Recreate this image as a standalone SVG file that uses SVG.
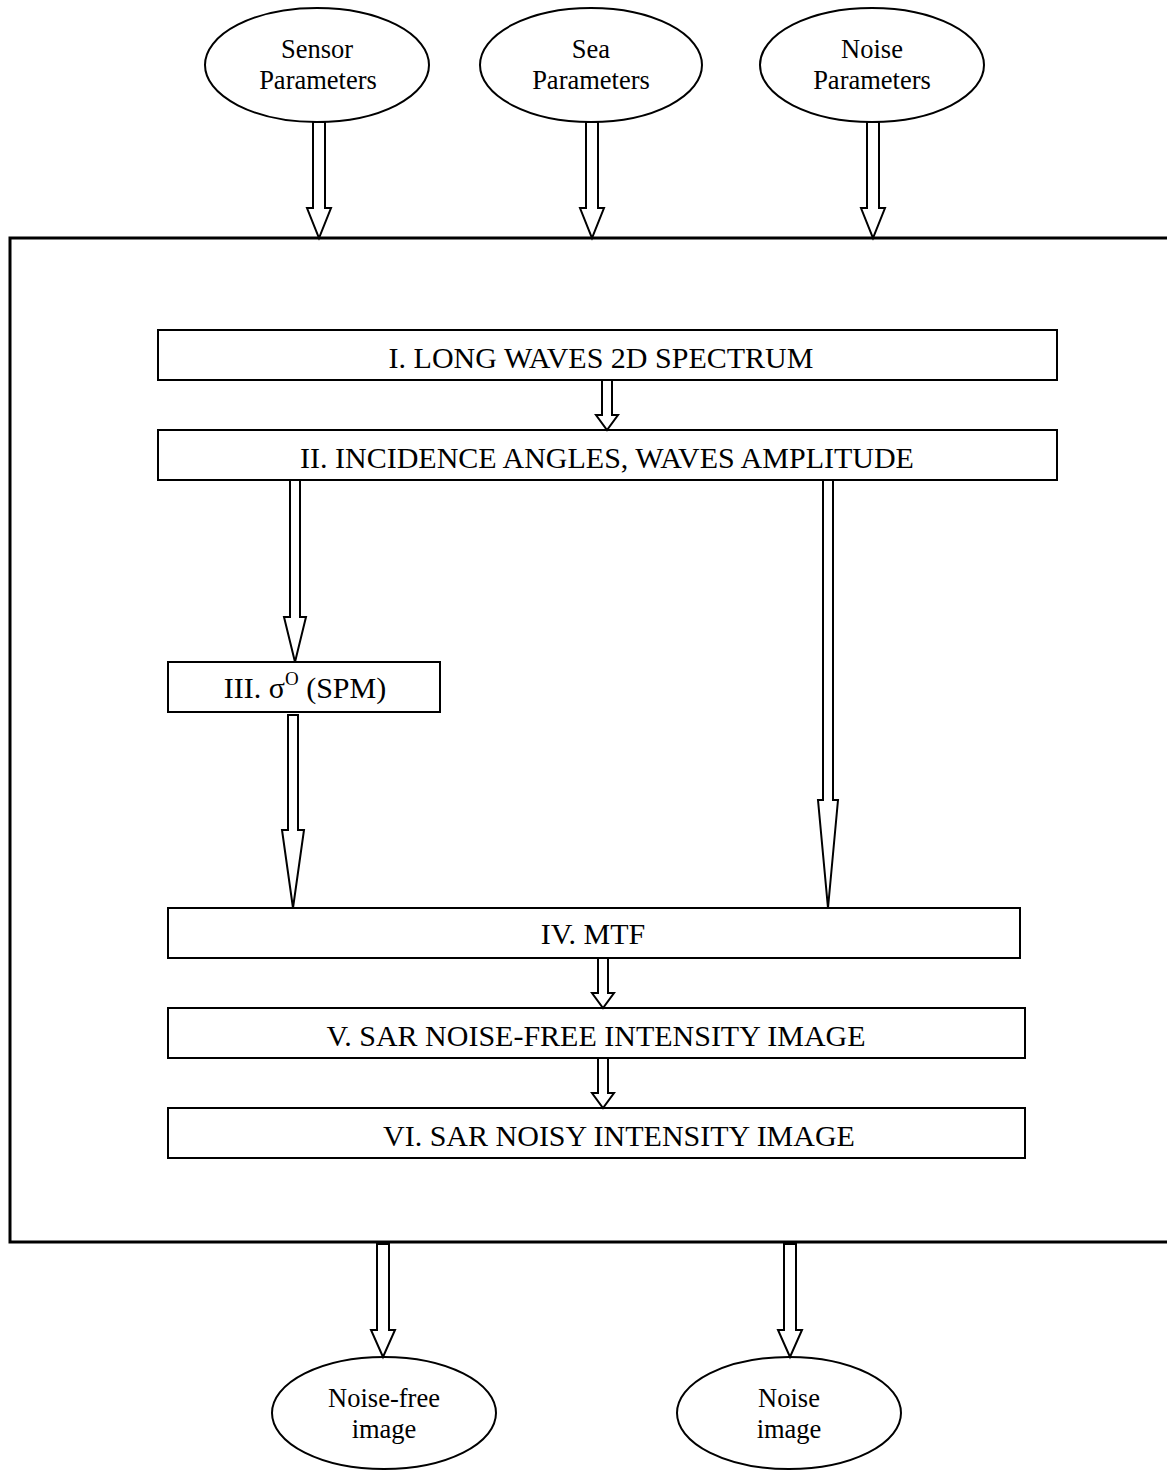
<svg xmlns="http://www.w3.org/2000/svg" width="1167" height="1470" viewBox="0 0 1167 1470">
<style>
.sh{fill:#fff;stroke:#000;stroke-width:2}
.ar{fill:#fff;stroke:#000;stroke-width:2;stroke-linejoin:miter}
text{font-family:"Liberation Serif","Times New Roman",serif;fill:#000;text-anchor:middle}
.t{font-size:30px}
.e{font-size:26.5px}
</style>
<rect width="1167" height="1470" fill="#fff"/>
<g id="frame"><path d="M1170,238 H10 V1242 H1170" fill="none" stroke="#000" stroke-width="3"/></g>
<g id="sensor"><ellipse class="sh" cx="317" cy="65" rx="112" ry="57"/><text class="e" x="317" y="58">Sensor</text><text class="e" x="318" y="89">Parameters</text></g>
<g id="sea"><ellipse class="sh" cx="591" cy="65" rx="111" ry="57"/><text class="e" x="591" y="58">Sea</text><text class="e" x="591" y="89">Parameters</text></g>
<g id="noise"><ellipse class="sh" cx="872" cy="65" rx="112" ry="57"/><text class="e" x="872" y="58">Noise</text><text class="e" x="872" y="89">Parameters</text></g>
<g id="b1"><rect class="sh" x="158" y="330" width="899" height="50"/><text class="t" x="601" y="368">I. LONG WAVES 2D SPECTRUM</text></g>
<g id="b2"><rect class="sh" x="158" y="430" width="899" height="50"/><text class="t" x="607" y="468">II. INCIDENCE ANGLES, WAVES AMPLITUDE</text></g>
<g id="b3"><rect class="sh" x="168" y="662" width="272" height="50"/><text class="t" x="305" y="698">III. σ<tspan font-size="19" dy="-13">O</tspan><tspan dy="13"> (SPM)</tspan></text></g>
<g id="b4"><rect class="sh" x="168" y="908" width="852" height="50"/><text class="t" x="593" y="944">IV. MTF</text></g>
<g id="b5"><rect class="sh" x="168" y="1008" width="857" height="50"/><text class="t" x="596" y="1046">V. SAR NOISE-FREE INTENSITY IMAGE</text></g>
<g id="b6"><rect class="sh" x="168" y="1108" width="857" height="50"/><text class="t" x="619" y="1146">VI. SAR NOISY INTENSITY IMAGE</text></g>
<g id="out1"><ellipse class="sh" cx="384" cy="1413" rx="112" ry="56"/><text class="e" x="384" y="1407">Noise-free</text><text class="e" x="384" y="1438">image</text></g>
<g id="out2"><ellipse class="sh" cx="789" cy="1413" rx="112" ry="56"/><text class="e" x="789" y="1407">Noise</text><text class="e" x="789" y="1438">image</text></g>
<g id="connectors">
<polygon class="ar" points="313,122 325,122 325,208 331,208 319,238 307,208 313,208"/>
<polygon class="ar" points="586,122 598,122 598,208 604,208 592,238 580,208 586,208"/>
<polygon class="ar" points="867,122 879,122 879,208 885,208 873,238 861,208 867,208"/>
<polygon class="ar" points="602,380 612,380 612,415 618,415 607,430 596,415 602,415"/>
<polygon class="ar" points="290,480 300,480 300,617 306,617 295,662 284,617 290,617"/>
<polygon class="ar" points="288,715 298,715 298,830 304,830 293,908 282,830 288,830"/>
<polygon class="ar" points="823,480 833,480 833,800 838,800 828,908 818,800 823,800"/>
<polygon class="ar" points="598,958 608,958 608,993 614,993 603,1008 592,993 598,993"/>
<polygon class="ar" points="598,1058 608,1058 608,1093 614,1093 603,1108 592,1093 598,1093"/>
<polygon class="ar" points="377,1244 389,1244 389,1330 395,1330 383,1357 371,1330 377,1330"/>
<polygon class="ar" points="784,1244 796,1244 796,1330 802,1330 790,1357 778,1330 784,1330"/>
</g>
</svg>
